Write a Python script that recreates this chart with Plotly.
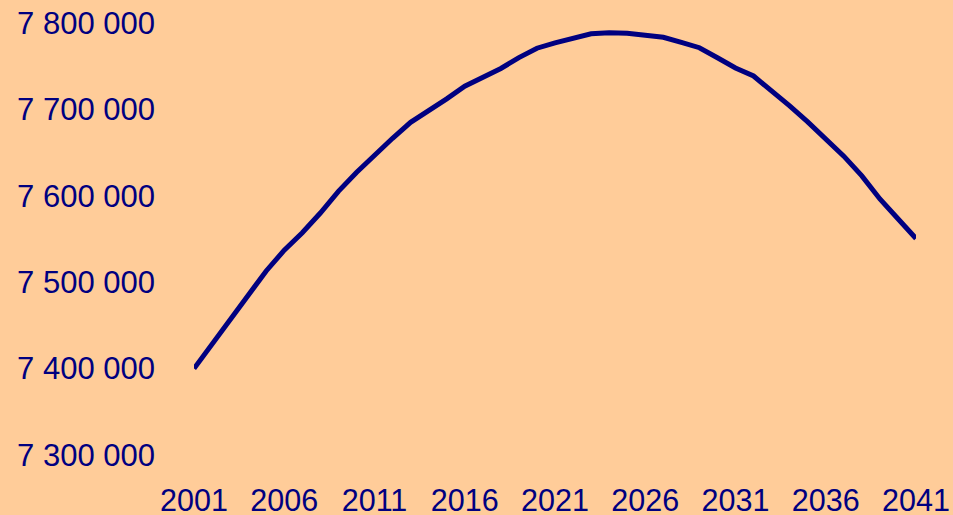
import plotly.graph_objects as go

years = list(range(2001, 2042))
population = [
    7400000, 7427700, 7455500, 7484100, 7513000, 7537000, 7557300, 7580100,
    7605100, 7627000, 7647400, 7666600, 7685000, 7697800, 7712200, 7726800,
    7737000, 7747400, 7759900, 7770800, 7777100, 7782500, 7787600, 7788700,
    7788200, 7785900, 7783500, 7777500, 7771400, 7759800, 7748000, 7738700,
    7722100, 7704000, 7685500, 7666600, 7645900, 7623000, 7596300, 7573500,
    7550500,
]
x_ticks = list(range(2001, 2042, 5))
y_ticks = [7300000, 7400000, 7500000, 7600000, 7700000, 7800000]
y_tick_labels = ["7 300 000", "7 400 000", "7 500 000", "7 600 000", "7 700 000", "7 800 000"]

BG = "#FFCC99"
NAVY = "#000080"

fig = go.Figure(
    go.Scatter(
        x=years, y=population, mode="lines",
        line=dict(color=NAVY, width=5),
        hoverinfo="skip",
    )
)

fig.update_layout(
    width=953, height=515,
    paper_bgcolor=BG, plot_bgcolor=BG,
    margin=dict(l=193.5, r=36.5, t=22.5, b=60, pad=0, autoexpand=False),
    showlegend=False,
    font=dict(family="Liberation Sans, Arial, sans-serif", size=31, color=NAVY),
)
fig.update_xaxes(
    range=[2001, 2041], tickmode="array", tickvals=x_ticks,
    ticktext=[str(v) for v in x_ticks],
    tickfont=dict(size=30.5),
    showgrid=False, zeroline=False, showline=False, ticks="",
    ticklabelstandoff=24, automargin=False,
)
fig.update_yaxes(
    range=[7300000, 7800000], tickmode="array", tickvals=y_ticks,
    ticktext=y_tick_labels,
    showgrid=False, zeroline=False, showline=False, ticks="",
    ticklabelstandoff=38, automargin=False,
)

post = (
    "document.documentElement.style.margin='0';"
    "document.body.style.margin='0';document.body.style.padding='0';"
    "document.body.style.overflow='hidden';"
    "Plotly.relayout(document.getElementById('{plot_id}'), {width: 953, height: 515});"
)

fig.write_html("out.html", post_script=post, config={"displayModeBar": False})
